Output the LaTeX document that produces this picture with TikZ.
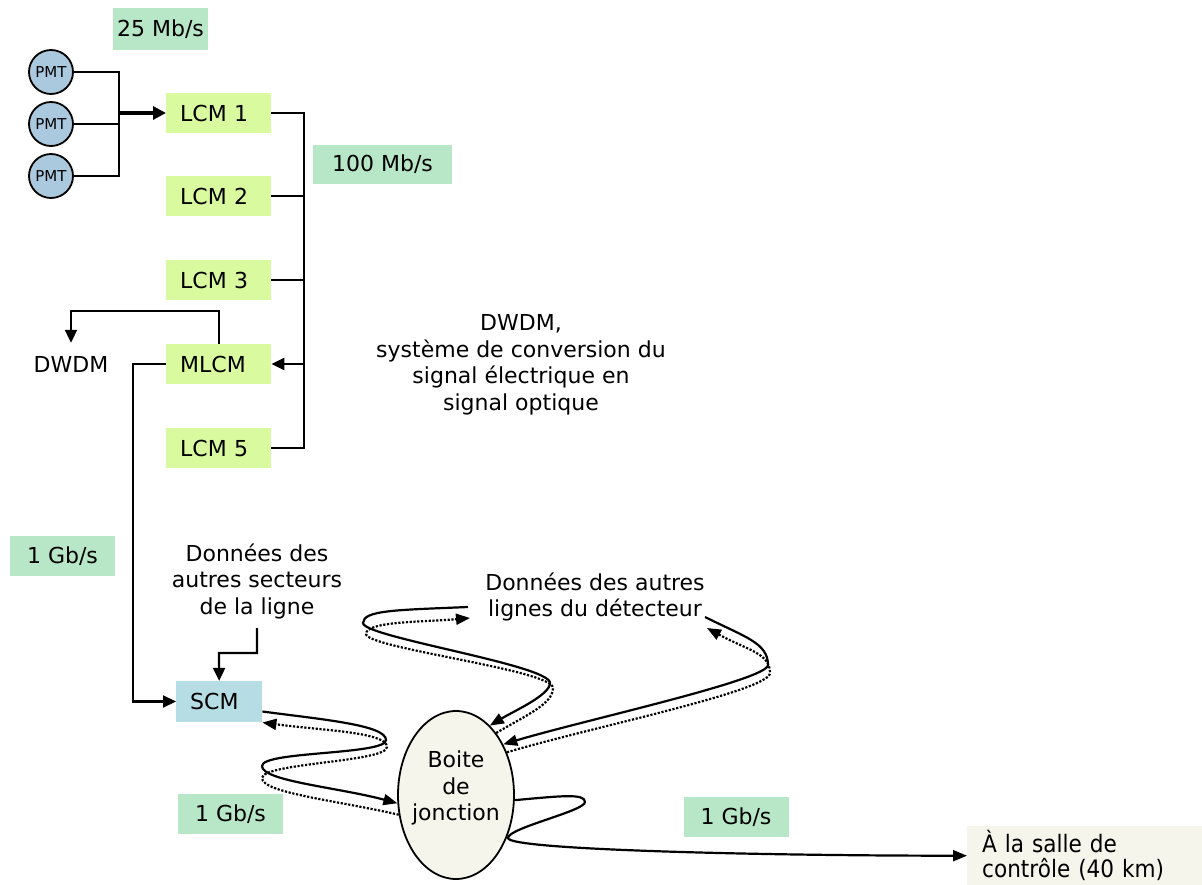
\documentclass[tikz,border=0pt]{standalone}
\usepackage{fontspec}
\setmainfont{DejaVu Sans}
\newfontfamily\condfont{DejaVu Sans Condensed}
\usetikzlibrary{arrows.meta,shapes.geometric}
\definecolor{mint}{RGB}{183,231,199}
\definecolor{lcmgreen}{RGB}{218,250,160}
\definecolor{scmblue}{RGB}{182,221,228}
\definecolor{pmtblue}{RGB}{170,200,222}
\definecolor{cream}{RGB}{245,245,235}
\tikzset{
  ratebox/.style={fill=mint, minimum width=105pt, minimum height=40pt, inner sep=0pt},
  lcmbox/.style={fill=lcmgreen, minimum height=40pt, text width=77pt, inner xsep=14pt, inner ysep=0pt, align=left, anchor=west},
  pmtnode/.style={circle, draw, line width=1.8pt, fill=pmtblue, minimum size=44pt, inner sep=0pt, font=\fontsize{15}{17}\selectfont},
  conn/.style={line width=2.2pt},
  arr/.style={conn, -{Triangle[length=13pt,width=12pt]}},
  thickarr/.style={line width=3.2pt, -{Triangle[length=13pt,width=13pt]}},
  curvearr/.style={line width=2.2pt, -{Triangle[length=14pt,width=11pt]}},
  dotcurve/.style={line width=2.2pt, dash pattern=on 2.2pt off 1.6pt, -{Triangle[length=14pt,width=11pt]}},
  txt/.style={align=center}
}
\begin{document}
\begin{tikzpicture}[x=1pt,y=-1pt,font=\fontsize{22}{26.5}\selectfont]
\useasboundingbox (0,0) rectangle (1202,885);

% rate labels
\node[ratebox, minimum width=95pt, minimum height=42pt] (r25) at (160.5,29) {25 Mb/s};
\node[ratebox, minimum width=139pt, minimum height=39pt] (r100) at (382.5,164.5) {100 Mb/s};
\node[ratebox] (r1a) at (62.5,556) {1 Gb/s};
\node[ratebox] (r1b) at (230.5,814) {1 Gb/s};
\node[ratebox] (r1c) at (736,817) {1 Gb/s};

% PMTs
\node[pmtnode] (p1) at (51,72) {PMT};
\node[pmtnode] (p2) at (51,124) {PMT};
\node[pmtnode] (p3) at (51,176) {PMT};

% LCMs
\node[lcmbox] (l1) at (166,113) {LCM 1};
\node[lcmbox] (l2) at (166,196) {LCM 2};
\node[lcmbox] (l3) at (166,280) {LCM 3};
\node[lcmbox] (ml) at (166,364) {MLCM};
\node[lcmbox] (l5) at (166,448) {LCM 5};

\node[inner ysep=13pt] (dwdm) at (71,364) {DWDM};
\node[fill=scmblue, minimum height=41pt, text width=58pt, inner xsep=14pt, inner ysep=0pt, align=left, anchor=west] (scm) at (176,701.5) {SCM};

\node[txt] (dsect) at (257,581) {Données des\\autres secteurs\\de la ligne};
\node[txt] (dconv) at (521,365) {DWDM,\\système de conversion du\\signal électrique en\\signal optique};
\node[txt] (dlig) at (595,597) {Données des autres\\lignes du détecteur};

\node[ellipse, draw, line width=1.8pt, fill=cream, minimum width=116pt, minimum height=168pt, inner sep=0pt] (boite) at (456,795) {};
\node[txt] (btxt) at (456,788) {Boite\\de\\jonction};

\node[anchor=north west, fill=cream, minimum width=235pt, minimum height=59pt, text width=205pt, inner xsep=15pt, inner ysep=0pt, align=left, font=\condfont\fontsize{24}{25}\selectfont] (salle) at (967,826) {À la salle de\\contrôle (40 km)};

% PMT -> LCM1
\coordinate (j1) at (119,113);
\draw[conn] (p1.east) -| (j1);
\draw[conn] (p3.east) -| (j1);
\draw[conn] (p2.east) -- (p2.east -| j1);
\draw[thickarr] (j1) -- (l1.west);

% LCM bus
\coordinate (b1) at (304,113);
\coordinate (b5) at (304,448);
\draw[conn] (l1.east) -- (b1) -- (b5) -- (l5.east);
\draw[conn] (l2.east) -- (l2.east -| b1);
\draw[conn] (l3.east) -- (l3.east -| b1);
\draw[arr] (ml.east -| b1) -- (ml.east);

% MLCM -> DWDM, MLCM -> SCM
\draw[arr] (ml.north) -- ++(0,-33) -| (dwdm.north);
\draw[arr] (ml.west) -- ++(-33,0) |- (scm.west);

% other sectors -> SCM
\coordinate (dj) at (219,653);
\draw[arr] ([yshift=-6pt]dsect.south) |- (dj) -- (scm.north);

% SCM <-> Boite
\coordinate (c1a) at (386,740);
\coordinate (c1b) at (262,766);
\coordinate (d1a) at (262,778);
\coordinate (d1b) at (387,747);
\draw[curvearr] ([yshift=-10pt]scm.east) .. controls +(60,8) and +(0,-15) .. (c1a)
  .. controls +(0,15) and +(0,-15) .. (c1b)
  .. controls +(0,15) and +(-60,-16) .. (boite.188);
\draw[dotcurve] (boite.199) .. controls +(-60,-14) and +(0,15) .. (d1a)
  .. controls +(0,-15) and +(0,15) .. (d1b)
  .. controls +(0,-15) and +(60,8) .. ([yshift=-21pt]scm.east);

% other lines <-> Boite (left loop)
\coordinate (s2) at (468,607);
\coordinate (e2) at (470,618);
\coordinate (c2a) at (363,623);
\coordinate (c2b) at (550,683);
\coordinate (d2a) at (553,688);
\coordinate (d2b) at (366,634);
\draw[curvearr] (s2) .. controls +(-70,3) and +(0,-13) .. (c2a)
  .. controls +(0,14) and +(0,-18) .. (c2b)
  .. controls +(0,12) and +(25,-15) .. (boite.64);
\draw[dotcurve] (boite.57) .. controls +(30,-18) and +(0,16) .. (d2a)
  .. controls +(0,-18) and +(0,14) .. (d2b)
  .. controls +(0,-13) and +(-45,4) .. (e2);

% other lines <-> Boite (right loop)
\coordinate (s3) at (705,617);
\coordinate (e3) at (707,628);
\coordinate (c3a) at (768,665);
\coordinate (d3a) at (770,673);
\draw[curvearr] (s3) .. controls +(40,20) and +(0,-22) .. (c3a)
  .. controls +(0,15) and +(80,-24) .. (boite.47);
\draw[dotcurve] (boite.40) .. controls +(80,-24) and +(0,18) .. (d3a)
  .. controls +(0,-20) and +(40,22) .. (e3);

% Boite -> control room
\coordinate (c4a) at (585,802);
\coordinate (c4b) at (508,838);
\draw[curvearr] (boite.-5) .. controls +(45,-4) and +(0,-9) .. (c4a)
  .. controls +(0,9) and +(0,-10) .. (c4b)
  .. controls +(0,12) and +(-200,0) .. (salle.west);
\end{tikzpicture}
\end{document}
